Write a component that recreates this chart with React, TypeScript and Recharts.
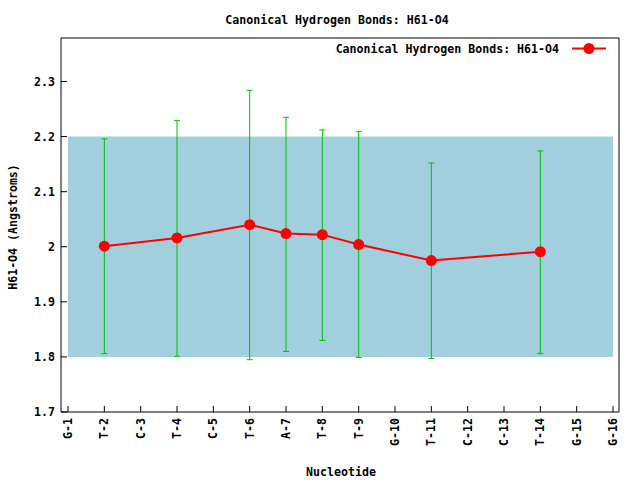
import React from 'react';
import { LineChart, Line, XAxis, YAxis, ErrorBar, ReferenceArea, Customized } from 'recharts';

const nucleotides = ['G-1', 'T-2', 'C-3', 'T-4', 'C-5', 'T-6', 'A-7', 'T-8', 'T-9', 'G-10', 'T-11', 'C-12', 'C-13', 'T-14', 'G-15', 'G-16'];
const positions = [2, 4, 6, 7, 8, 9, 11, 14];
const meanValues = [2.001, 2.016, 2.04, 2.024, 2.022, 2.004, 1.975, 1.991];
const lowValues = [1.806, 1.801, 1.795, 1.81, 1.83, 1.799, 1.797, 1.806];
const highValues = [2.196, 2.229, 2.284, 2.235, 2.212, 2.209, 2.152, 2.174];
const yTicks = [1.7, 1.8, 1.9, 2.0, 2.1, 2.2, 2.3];
const xTicks = nucleotides.map((_, i) => i + 1);
const bandLow = 1.8;
const bandHigh = 2.2;
const title = 'Canonical Hydrogen Bonds: H61-O4';
const seriesName = 'Canonical Hydrogen Bonds: H61-O4';
const yLabel = 'H61-O4 (Angstroms)';
const xLabel = 'Nucleotide';

const data = positions.map((p, i) => ({
  x: p,
  y: meanValues[i],
  err: [meanValues[i] - lowValues[i], highValues[i] - meanValues[i]],
}));

const FONT = '"DejaVu Sans Mono", monospace';
const X_DOMAIN: [number, number] = [0.807, 16.165];
const Y_DOMAIN: [number, number] = [1.7, 2.379];

const XTick = (props: any) => {
  const { x, y, payload } = props;
  const label = nucleotides[Math.round(payload.value) - 1] ?? '';
  return (
    <text
      x={x}
      y={y}
      transform={`rotate(-90, ${x}, ${y})`}
      textAnchor="end"
      dy="0.35em"
      fontFamily={FONT}
      fontWeight="bold"
      fontSize={11.6}
      fill="#000"
    >
      {label}
    </text>
  );
};

const YTick = (props: any) => {
  const { x, y, payload } = props;
  const v = Number(payload.value);
  const label = Math.abs(v - Math.round(v)) < 1e-9 ? String(Math.round(v)) : v.toFixed(1);
  return (
    <text x={x} y={y} textAnchor="end" dy="0.35em" fontFamily={FONT} fontWeight="bold" fontSize={11.6} fill="#000">
      {label}
    </text>
  );
};

const Decorations = () => (
  <g>
    <text x={337} y={19.5} dy="0.35em" textAnchor="middle" fontFamily={FONT} fontWeight="bold" fontSize={11.6} fill="#000">
      {title}
    </text>
    <text x={559} y={49} dy="0.35em" textAnchor="end" fontFamily={FONT} fontWeight="bold" fontSize={11.6} fill="#000">
      {seriesName}
    </text>
    <line x1={572} y1={48.5} x2={606} y2={48.5} stroke="#ff0000" strokeWidth={2} />
    <circle cx={589} cy={48.5} r={5.5} fill="#ff0000" />
    <text
      x={12.5}
      y={227}
      dy="0.35em"
      transform="rotate(-90, 12.5, 227)"
      textAnchor="middle"
      fontFamily={FONT}
      fontWeight="bold"
      fontSize={11.6}
      fill="#000"
    >
      {yLabel}
    </text>
    <text x={341} y={472} dy="0.35em" textAnchor="middle" fontFamily={FONT} fontWeight="bold" fontSize={11.6} fill="#000">
      {xLabel}
    </text>
  </g>
);

export default function App() {
  return (
    <div style={{ position: 'absolute', left: 0, top: 0, width: 640, height: 480, background: '#fff' }}>
      <LineChart width={640} height={480} data={data} margin={{ top: 37, right: 20, left: 0, bottom: 0 }}>
        <XAxis
          xAxisId="bottom"
          dataKey="x"
          type="number"
          domain={X_DOMAIN}
          ticks={xTicks}
          allowDataOverflow
          height={68}
          orientation="bottom"
          stroke="#000"
          tickSize={-6}
          tickMargin={12}
          tick={<XTick />}
          interval={0}
        />
        <XAxis
          xAxisId="top"
          dataKey="x"
          type="number"
          domain={X_DOMAIN}
          ticks={xTicks}
          allowDataOverflow
          height={1}
          orientation="top"
          stroke="#000"
          tickSize={-6}
          tick={false}
          interval={0}
        />
        <YAxis
          yAxisId="left"
          type="number"
          domain={Y_DOMAIN}
          ticks={yTicks}
          allowDataOverflow
          width={61}
          orientation="left"
          stroke="#000"
          tickSize={-6}
          tickMargin={12}
          tick={<YTick />}
          interval={0}
        />
        <YAxis
          yAxisId="right"
          type="number"
          domain={Y_DOMAIN}
          ticks={yTicks}
          allowDataOverflow
          width={1}
          orientation="right"
          stroke="#000"
          tickSize={-6}
          tick={false}
          interval={0}
        />
        <ReferenceArea
          xAxisId="bottom"
          yAxisId="left"
          x1={1}
          x2={16}
          y1={bandLow}
          y2={bandHigh}
          fill="#a2cfde"
          fillOpacity={1}
          stroke="none"
          ifOverflow="extendDomain"
        />
        <Line
          xAxisId="bottom"
          yAxisId="left"
          dataKey="y"
          stroke="#ff0000"
          strokeWidth={2}
          dot={{ r: 5.5, fill: '#ff0000', stroke: '#ff0000', strokeWidth: 0 }}
          activeDot={false}
          isAnimationActive={false}
          type="linear"
        >
          <ErrorBar dataKey="err" direction="y" stroke="#00c000" strokeWidth={1} width={3} isAnimationActive={false} />
        </Line>
        <Customized component={Decorations} />
      </LineChart>
    </div>
  );
}
